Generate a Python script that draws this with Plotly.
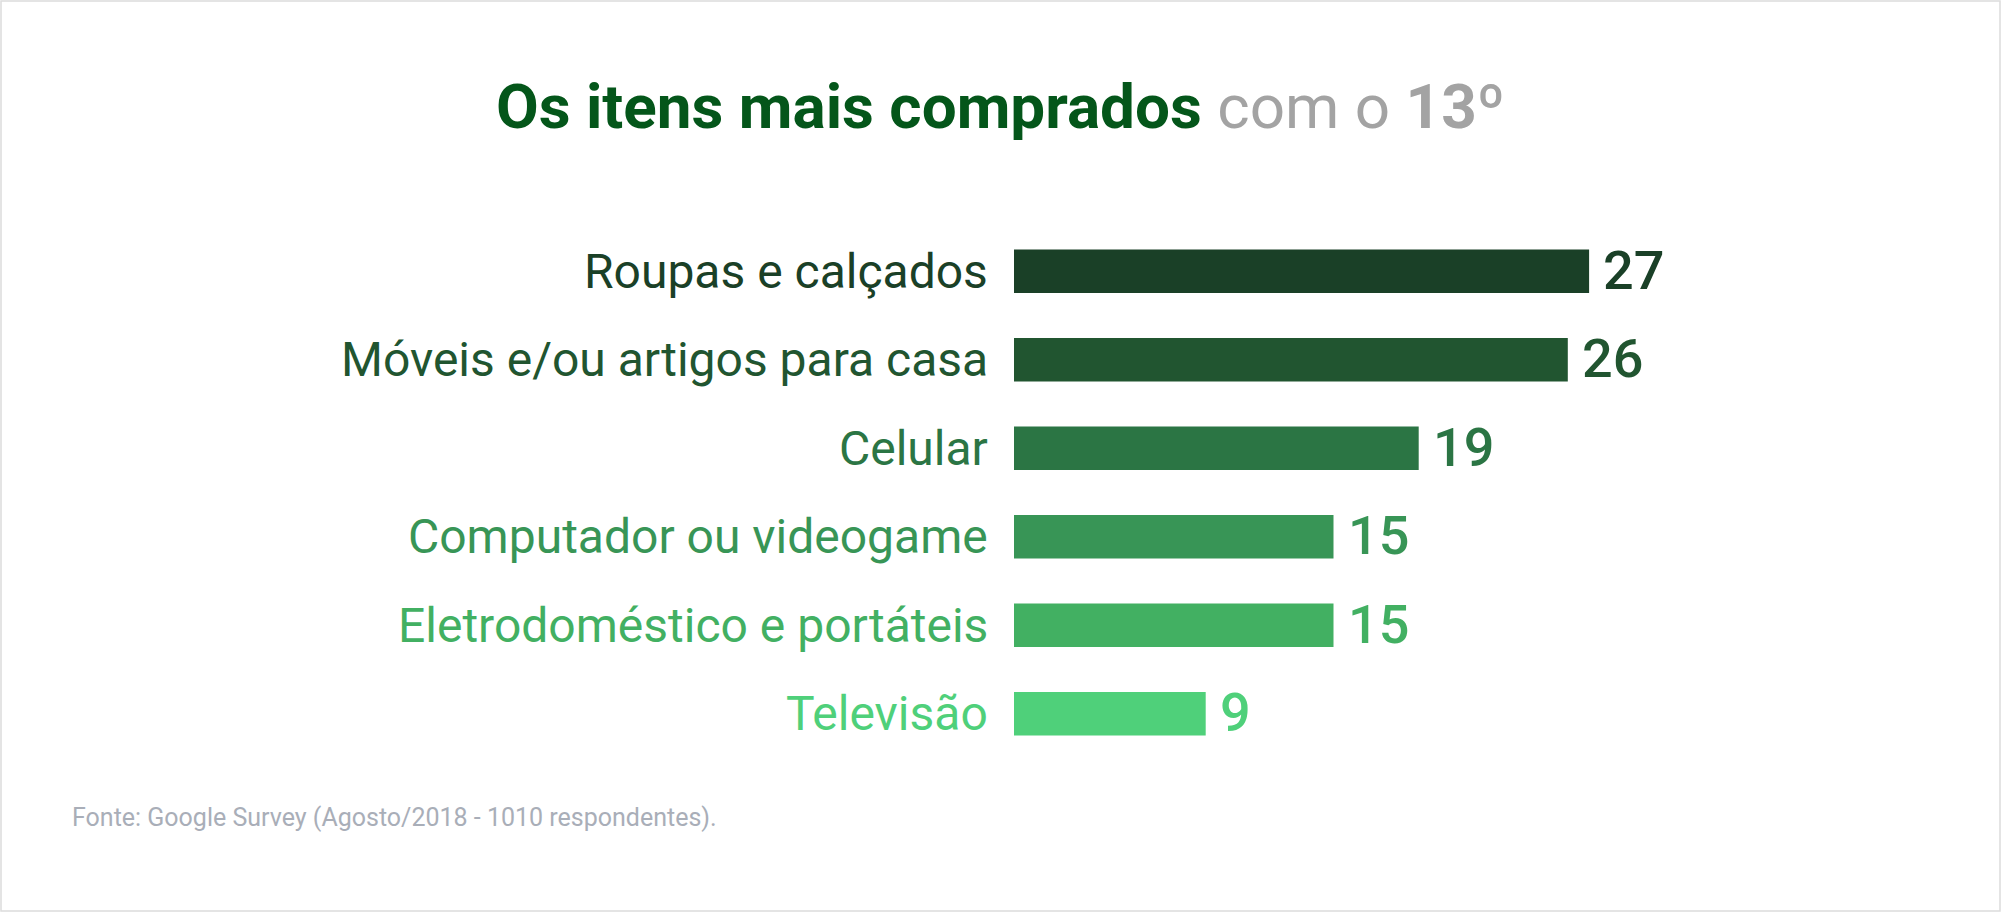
import plotly.graph_objects as go

# dados
categorias = ["Roupas e calçados", "Móveis e/ou artigos para casa", "Celular",
              "Computador ou videogame", "Eletrodoméstico e portáteis", "Televisão"]
valores = [27, 26, 19, 15, 15, 9]
cores = ["#1a4027", "#215530", "#2b7544", "#389556", "#42b062", "#4fd07a"]

W, H = 2001, 912
ml, mr, mt, mb = 1014, 348, 227, 154
pw = W - ml - mr

fig = go.Figure(go.Bar(
    x=valores, y=categorias, orientation="h",
    marker=dict(color=cores, line=dict(width=0)),
    hoverinfo="skip",
))

# rotulos das categorias
for c, cor in zip(categorias, cores):
    fig.add_annotation(x=0, y=c, xref="x", yref="y", text=c, showarrow=False,
                       xanchor="right", xshift=-24,
                       font=dict(family="Roboto", size=48, color=cor))

# valores
for c, v, cor in zip(categorias, valores, cores):
    fig.add_annotation(x=v, y=c, xref="x", yref="y", text=str(v), showarrow=False,
                       xanchor="left", xshift=12, yshift=1,
                       font=dict(family="Roboto", size=54, color=cor, weight=500))

# fonte
fig.add_annotation(x=(70 - ml) / pw, y=-(817 - (H - mb)) / (H - mt - mb),
                   xref="paper", yref="paper", showarrow=False,
                   xanchor="left", yanchor="middle",
                   text="Fonte: Google Survey (Agosto/2018 - 1010 respondentes).",
                   font=dict(family="Roboto", size=25, color="#a9aeb8"))

# borda
fig.add_shape(type="rect", xref="paper", yref="paper",
              x0=(1 - ml) / pw, x1=(W - 1 - ml) / pw,
              y0=-(mb - 1) / (H - mt - mb), y1=1 + (mt - 1) / (H - mt - mb),
              line=dict(color="#dcdcdc", width=1.5), layer="below")

fig.update_layout(
    width=W, height=H,
    margin=dict(l=ml, r=mr, t=mt, b=mb),
    paper_bgcolor="white", plot_bgcolor="white",
    bargap=0.51, showlegend=False,
    title=dict(
        text="<b>Os itens mais comprados</b> <span style='color:#a3a3a3'>com o <b>13º</b></span>",
        x=0.5, xref="container", xanchor="center",
        y=1 - 106 / H, yref="container", yanchor="middle",
        font=dict(family="Roboto", size=62, color="#04561a"),
    ),
    xaxis=dict(range=[0, 30], visible=False, fixedrange=True),
    yaxis=dict(autorange="reversed", visible=False, fixedrange=True),
)

fig.write_html("out.html", config={"displayModeBar": False},
               post_script="document.body.style.margin='0';")
